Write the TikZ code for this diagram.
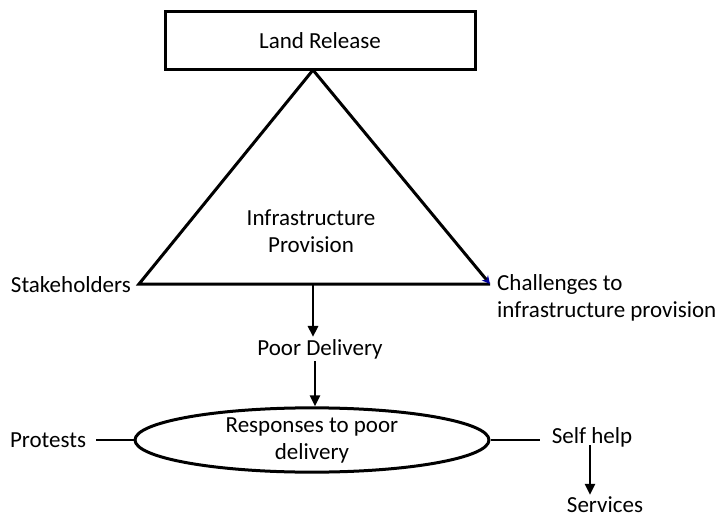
\documentclass[tikz,border=0pt]{standalone}
\usepackage{fontspec}
\setmainfont{Carlito}
\usetikzlibrary{arrows.meta,shapes.geometric}
\begin{document}
\begin{tikzpicture}[x=1pt,y=-1pt,
  every node/.style={font=\fontsize{23}{27}\selectfont, inner sep=2pt},
  thick line/.style={line width=3pt, line join=miter},
  arr/.style={line width=2.6pt, -{Triangle[width=10pt,length=11pt]}},
  plain/.style={line width=2.6pt}]
  \useasboundingbox (0,0) rectangle (718,519);

  % top box
  \node[draw, thick line, minimum width=310pt, minimum height=58pt] (land) at (320,41) {Land Release};

  % triangle corners
  \coordinate (apex) at (313,70);
  \coordinate (bl) at (139,284);
  \coordinate (br) at (490,284);
  \coordinate (bm) at (313,284);

  \draw[thick line] (apex) -- (bl) -- (br);
  \draw[thick line, -{Stealth[width=8pt,length=8pt,color=blue!60!black]}] (apex) -- (br);

  \node[align=center] (infra) at (311,231) {Infrastructure\\Provision};
  \node[anchor=east] (stake) at (133,285) {Stakeholders};
  \node[anchor=west, align=left] (chal) at (495,298) {Challenges to\\infrastructure provision};

  \node (poor) at (320,349) {Poor Delivery};
  \node[draw, ellipse, thick line, minimum width=354pt, minimum height=55pt, inner sep=0pt, align=center] (resp) at (312,440) {Responses to poor\\delivery};

  \node (prot) at (48,440) {Protests};
  \node (self) at (592,437) {Self help};
  \node (serv) at (605,505) {Services};
  \coordinate (sx) at (590,0);

  \draw[arr] (bm) -- (bm |- poor.north);
  \draw[arr] (poor.south -| 315,0) -- (resp.north -| 315,0);
  \draw[plain, shorten <=8pt] (prot.east) -- (resp.west);
  \draw[plain, shorten >=10pt] (resp.east) -- (resp.east -| self.west);
  \draw[arr] (sx |- 0,445) -- (sx |- serv.north);
\end{tikzpicture}
\end{document}
